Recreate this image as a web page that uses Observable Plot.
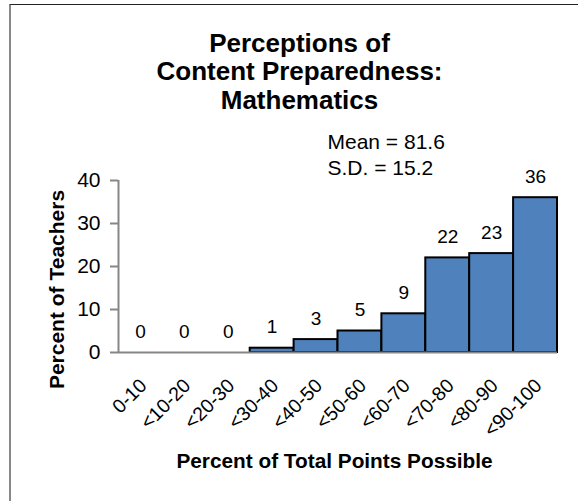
<!DOCTYPE html>
<html>
<head>
<meta charset="utf-8">
<script src="https://cdn.jsdelivr.net/npm/d3@7"></script>
<script src="https://cdn.jsdelivr.net/npm/@observablehq/plot@0.6"></script>
<style>
  html, body { margin: 0; padding: 0; background: #fff; }
  #wrap { position: relative; width: 578px; height: 501px; overflow: hidden; }
  #border { position: absolute; left: 9px; top: 4px; right: -5px; bottom: -5px;
            border-top: 1px solid #222; border-left: 2px solid #888; }
  #chart { position: absolute; left: 0; top: 0; }
</style>
</head>
<body>
<div id="wrap"><div id="border"></div><div id="chart"></div></div>
<script>
const categories = ["0-10", "<10-20", "<20-30", "<30-40", "<40-50", "<50-60", "<60-70", "<70-80", "<80-90", "<90-100"];
const percents = [0, 0, 0, 1, 3, 5, 9, 22, 23, 36];
const yTicks = [0, 10, 20, 30, 40];
const titleLines = ["Perceptions of", "Content Preparedness:", "Mathematics"];
const statLines = ["Mean = 81.6", "S.D. = 15.2"];
const xLabel = "Percent of Total Points Possible";
const yLabel = "Percent of Teachers";

const data = categories.map((c, i) => ({range: c, i, pct: percents[i]}));
const font = "'Liberation Sans', Arial, Helvetica, sans-serif";

const chart = Plot.plot({
  width: 578,
  height: 501,
  marginLeft: 118,
  marginRight: 21,
  marginTop: 180,
  marginBottom: 149,
  style: {fontFamily: font, background: "transparent", color: "#000", overflow: "visible"},
  x: {type: "linear", domain: [0, categories.length]},
  y: {domain: [0, 40]},
  marks: [
    Plot.rectY(data.filter(d => d.pct > 0), {
      x1: d => d.i, x2: d => d.i + 1, y: "pct",
      fill: "#4f81bd", stroke: "#000", strokeWidth: 2
    }),
    Plot.ruleY([0], {stroke: "#868686", strokeWidth: 2}),
    Plot.ruleX([0], {y1: 0, y2: 40, stroke: "#868686", strokeWidth: 2}),
    Plot.axisY({ticks: yTicks, tickSize: 8, tickPadding: 10, fontSize: 21, stroke: "#868686", strokeWidth: 2, fill: "#000", label: null}),
    Plot.axisX({
      ticks: data.map(d => d.i + 0.5),
      tickFormat: v => categories[Math.floor(v)],
      tickRotate: -45, tickSize: 0, tickPadding: 30, dx: 3, fontSize: 19.5, fill: "#000", label: null
    }),
    Plot.text(data, {x: d => d.i + 0.5, y: "pct", text: d => String(d.pct), dy: -21, fontSize: 19, fill: "#000"}),
    Plot.text([titleLines.join("\n")], {
      frameAnchor: "top", dx: -38.5, dy: -72, lineAnchor: "bottom", lineHeight: 1.08,
      fontSize: 26, fontWeight: "bold", fill: "#000"
    }),
    Plot.text([statLines.join("\n")], {
      frameAnchor: "top-left", dx: 209, dy: -6, lineAnchor: "bottom", textAnchor: "start", lineHeight: 1.2,
      fontSize: 21, fill: "#000"
    }),
    Plot.text([xLabel], {
      frameAnchor: "bottom", dx: -3.5, dy: 115, lineAnchor: "bottom",
      fontSize: 20.8, fontWeight: "bold", fill: "#000"
    }),
    Plot.text([yLabel], {
      frameAnchor: "left", dx: -55, dy: 23, rotate: -90, lineAnchor: "bottom", textAnchor: "middle",
      fontSize: 21, fontWeight: "bold", fill: "#000"
    })
  ]
});
document.getElementById("chart").appendChild(chart);
</script>
</body>
</html>
